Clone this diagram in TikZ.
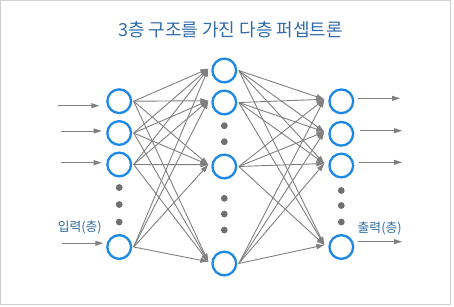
\documentclass[tikz,border=0pt]{standalone}
\usepackage{fontspec}
\newfontfamily\kr{Noto Sans CJK KR}
\usetikzlibrary{arrows.meta}
\definecolor{nodeblue}{RGB}{30,136,229}
\definecolor{textblue}{RGB}{47,107,170}
\definecolor{linegray}{RGB}{128,128,128}
\definecolor{dotgray}{RGB}{112,112,112}
\definecolor{framegray}{RGB}{206,206,206}
\tikzset{
  neuron/.style={circle, draw=nodeblue, fill=white, line width=2.3pt, minimum size=23.7pt, inner sep=0pt},
  conn/.style={draw=linegray, line width=0.9pt, -{Triangle[length=8pt,width=5pt]}},
  lbl/.style={font=\kr\fontsize{12.8}{15}\selectfont, text=textblue, inner sep=0pt},
  ttl/.style={font=\kr\fontsize{18}{21}\selectfont, text=textblue, inner sep=0pt},
  dotn/.style={circle, fill=dotgray, minimum size=6.8pt, inner sep=0pt}
}
\begin{document}
\begin{tikzpicture}[x=1pt,y=-1pt]
\useasboundingbox (0,0) rectangle (454,306);
\draw[framegray, line width=1pt] (0.5,0.5) rectangle (450.5,304.5);

\node[ttl] (title) at (230.5,30) {3층 구조를 가진 다층 퍼셉트론};

% input layer
\node[neuron] (i1) at (119.2,101.2) {};
\node[neuron] (i2) at (119.2,133) {};
\node[neuron] (i3) at (119.2,164.5) {};
\node[neuron] (i4) at (119.2,247) {};
% hidden layer
\node[neuron] (h1) at (224.3,70.5) {};
\node[neuron] (h2) at (224.3,102.5) {};
\node[neuron] (h3) at (224.3,166.5) {};
\node[neuron] (h4) at (224.3,263.5) {};
% output layer
\node[neuron] (o1) at (341.3,101.3) {};
\node[neuron] (o2) at (341.3,133.8) {};
\node[neuron] (o3) at (341.3,165.5) {};
\node[neuron] (o4) at (341.3,247) {};

% dots
\node[dotn] (di1) at (119.2,187.5) {};
\node[dotn] (di2) at (119.2,204.5) {};
\node[dotn] (di3) at (119.2,222) {};
\node[dotn] (dh1) at (224.3,125.7) {};
\node[dotn] (dh2) at (224.3,141.7) {};
\node[dotn] (dh3) at (224.3,198.3) {};
\node[dotn] (dh4) at (224.3,214) {};
\node[dotn] (dh5) at (224.3,230) {};
\node[dotn] (do1) at (341.3,190.5) {};
\node[dotn] (do2) at (341.3,205.5) {};
\node[dotn] (do3) at (341.3,222) {};

% labels
\node[lbl] (lin) at (79.8,227.3) {입력(층)};
\node[lbl] (lout) at (379.7,228.3) {출력(층)};

% input arrows
\coordinate (x1) at (58.3,105.7);
\coordinate (x2) at (60.7,131);
\coordinate (x3) at (60.7,162.7);
\coordinate (x4) at (61.7,243.3);
\draw[conn] (x1) -- ([xshift=-6.9pt,yshift=-4.5pt]i1.west);
\draw[conn] (x2) -- ([xshift=-4.5pt,yshift=2pt]i2.west);
\draw[conn] (x3) -- ([xshift=-4.5pt,yshift=1.8pt]i3.west);
\draw[conn] (x4) -- ([xshift=-2.9pt,yshift=3.7pt]i4.west);

% output arrows
\coordinate (y1) at (400,98.3);
\coordinate (y2) at (402,130.7);
\coordinate (y3) at (402,162.3);
\coordinate (y4) at (402,241.7);
\draw[conn] ([xshift=3.4pt,yshift=3pt]o1.east) -- (y1);
\draw[conn] ([xshift=5.7pt,yshift=3.1pt]o2.east) -- (y2);
\draw[conn] ([xshift=4.7pt,yshift=3.2pt]o3.east) -- (y3);
\draw[conn] ([xshift=3.4pt,yshift=5.3pt]o4.east) -- (y4);

% input -> hidden
\foreach \a in {1,2,3,4}{
  \foreach \b in {1,2,3,4}{
    \draw[conn] ([xshift=1.5pt]i\a.east) -- ([xshift=-3pt,yshift=1.8pt]h\b.west);
  }
}
% hidden -> output
\foreach \a in {1,2,3,4}{
  \foreach \b in {1,2,3,4}{
    \draw[conn] ([xshift=1.5pt]h\a.east) -- ([xshift=-4pt,yshift=2pt]o\b.west);
  }
}
\end{tikzpicture}
\end{document}
